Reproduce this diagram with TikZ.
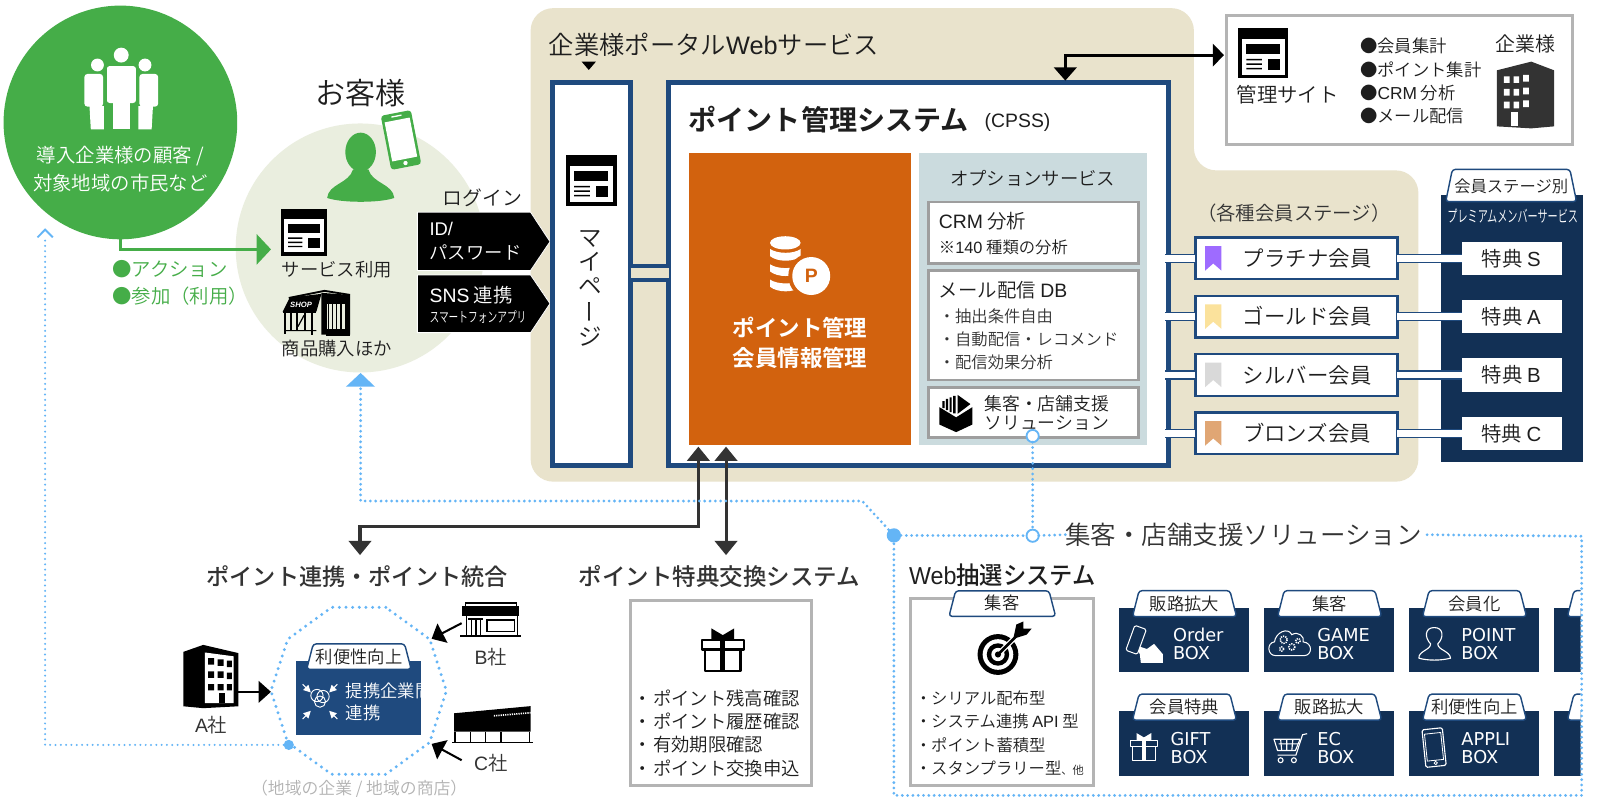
\documentclass[tikz,border=0pt]{standalone}
\usepackage{fontspec}
\usepackage{graphicx}
\setmainfont{Noto Sans CJK JP DemiLight}
\newfontfamily\medf{Noto Sans CJK JP Medium}
\newfontfamily\boldf{Noto Sans CJK JP Bold}
\newfontfamily\latinf{DejaVu Sans}
\newfontfamily\ltf{Liberation Sans}
\newcommand{\lat}[1]{{\ltf #1}}
\usetikzlibrary{arrows.meta,shapes.geometric,fit,calc}
\definecolor{grn}{HTML}{45AD48}
\definecolor{paleg}{HTML}{EAEEDF}
\definecolor{beige}{HTML}{E9E3CC}
\definecolor{bluel}{HTML}{1F4A7E}
\definecolor{navy}{HTML}{123055}
\definecolor{orng}{HTML}{D2620E}
\definecolor{optb}{HTML}{CBDBDE}
\definecolor{grayb}{HTML}{B4B4B4}
\definecolor{dotc}{HTML}{64B5F6}
\definecolor{ink}{HTML}{1E1E1E}
\definecolor{dk}{HTML}{333333}
\newcommand{\tx}[5][]{\node[inner sep=0pt,outer sep=0pt,text=ink,#1] (#2) at (#3) {\fontsize{#4}{#4}\selectfont\rule[-.12em]{0pt}{1em}#5};}
\newcommand{\bx}[4][]{\node[inner sep=0pt,outer sep=0pt,fit={(#3)(#4)},#1] (#2) {};}
\newcommand{\webic}[3]{\pgfmathsetmacro{\ux}{#3*0.01}
\begin{scope}[shift={(#1,#2)},x=\ux pt,y=-\ux pt]
\fill[black] (0,0) rectangle (100,100);
\fill[white] (7,22) rectangle (93,93);
\fill[black] (16,32) rectangle (84,51);
\fill[black] (16,61) rectangle (47,64) (16,70) rectangle (47,73) (16,79) rectangle (47,82);
\fill[black] (59,62) rectangle (84,83);
\end{scope}}
\newcommand{\tabshape}[5][]{\draw[tabst,#1] (#2,#5) -- (#2+6.5,#4) -- (#3-6.5,#4) -- (#3,#5) -- cycle;}
\newcommand{\giftic}[5]{\pgfmathsetmacro{\ux}{#3*0.01}
\begin{scope}[shift={(#1,#2)},x=\ux pt,y=-\ux pt,line width=#5pt]
\draw[#4,line join=round] (0,27) rectangle (100,50);
\draw[#4,line join=round] (8,50) rectangle (92,100);
\fill[#4] (23,0) -- (50,16) -- (77,0) -- (77,27) -- (23,27) -- cycle;
\fill[#4] (44,27) rectangle (56,100);
\end{scope}}
\tikzset{
 tabst/.style={fill=white,draw=bluel,line width=1.4pt,rounded corners=3pt},
 dotline/.style={draw=dotc,line width=3pt,line cap=round,dash pattern=on 0pt off 5.2pt},
 graybox/.style={draw=grayb,line width=3pt,fill=white},
 optbox/.style={draw=black!38,line width=2.5pt,fill=white},
 bluebox/.style={draw=bluel,line width=4.9pt,fill=white},
 membox/.style={draw=bluel,line width=2.2pt,fill=white},
 dblue/.style={draw=bluel,line width=1.5pt,double=white,double distance=6.5pt},
 darr/.style={draw=dk,line width=3pt,{Triangle[width=22pt,length=14pt]}-{Triangle[width=22pt,length=14pt]}},
 karr/.style={draw=black,line width=2pt,-{Triangle[width=21pt,length=12pt]}},
 cardbg/.style={fill=navy},
 wt/.style={text=white},
 cardtx/.style={text=white,anchor=west},
}
\newcommand{\card}[4]{% id x ytop title
\bx[cardbg]{card#1}{#2,#3}{#2+127.5,#3+63}
\tabshape{#2+13}{#2+115}{#3-17}{#3+8.5}
\tx{tab#1}{#2+64,#3-4}{17}{#4}
}
\begin{document}
\begin{tikzpicture}[x=1pt,y=-1pt]
\useasboundingbox (0,0) rectangle (1568,784);
\fill[white] (0,0) rectangle (1568,784);
% beige panel
\fill[beige,rounded corners=22pt] (520,8) -- (1170,8) -- (1170,167) -- (1390,167) -- (1390,472) -- (520,472) -- cycle;
% green circle
\node[circle,fill=grn,minimum size=229pt,inner sep=0pt,outer sep=0pt] (cust) at (118,120) {};
\begin{scope}[white]
\fill (118.8,54) circle (7.3);
\fill[rounded corners=3pt] (104.6,64.7) rectangle (133.3,101);
\fill (110.7,100) rectangle (127.6,126.8);
\fill (95.5,63.7) circle (6.3);
\fill (142.1,63.7) circle (6.3);
\fill[rounded corners=3pt] (82.7,72.5) -- (101,72.5) -- (101,104.5) -- (82.7,104.5) -- cycle;
\fill[rounded corners=3pt] (136.6,72.5) -- (155,72.5) -- (155,104.5) -- (136.6,104.5) -- cycle;
\fill (87.7,104) -- (102,104) -- (102,126.8) -- (89,126.8) -- cycle;
\fill (135.6,104) -- (149.9,104) -- (148.6,126.8) -- (135.6,126.8) -- cycle;
\end{scope}
\fill[grn] (102,64) rectangle (104.6,127);
\fill[grn] (133.3,64) rectangle (135.6,127);
\tx[wt]{c1}{118,152.6}{19}{導入企業様の顧客 /}
\tx[wt]{c2}{118,179}{19}{対象地域の市民など}
% pale circle
\node[circle,fill=paleg,minimum size=244pt,inner sep=0pt,outer sep=0pt] (pale) at (353,243) {};
\tx{okyaku}{353,91}{29.5}{お客様}
\fill[grn] (353.4,149) ellipse (15 and 19);
\fill[grn] (320.6,194) .. controls (322,180) and (342,180) .. (346,166) -- (361,166) .. controls (365,180) and (385,180) .. (386.4,194) .. controls (372,199) and (335,199) .. (320.6,194) -- cycle;
\begin{scope}[shift={(393,137.2)},rotate=11]
\fill[grn,rounded corners=3pt] (-15,-27) rectangle (15,27);
\fill[white] (-12.5,-20) rectangle (12.5,19);
\fill[white] (-5,-24.5) rectangle (5,-23.2);
\fill[white] (0,23) circle (2.1);
\end{scope}
% green arrow
\coordinate (ga) at (265.6,244.4);
\coordinate (gb) at (118,244.4);
\draw[grn,line width=3.5pt,-{Triangle[width=29pt,length=14pt]}] (cust.south) -- (gb) -- (ga);
\tx[anchor=west,text=grn]{act1}{110,264}{19}{●アクション}
\tx[anchor=west,text=grn]{act2}{110,290}{19}{●参加（利用）}
\webic{275}{205}{45.5}
\tx[anchor=west]{svc}{276,264}{18}{サービス利用}
\tx[anchor=west]{buy}{276,341.4}{18}{商品購入ほか}
% shop
\draw[black,line width=1.8pt] (283,292) -- (318,285) -- (343,289);
\fill[black] (277,305.5) -- (284,291.5) -- (315,288) -- (310,305.5) -- cycle;
\node[inner sep=0,text=white,font=\ltf\bfseries\itshape\fontsize{7.5}{8}\selectfont] (shoplbl) at (295,298.5) {SHOP};
\draw[black,line width=1.7pt] (277,305.5) -- (310,305.5) (279,306) -- (279,327) (285,306) -- (285,324) (291,306) -- (291,324) (299,306) -- (299,324) (306,306) -- (306,328);
\draw[black,line width=1.2pt] (292,320) -- (298,309) (279,324) -- (310,324);
\fill[black] (315,287) -- (343,289) -- (343,328) -- (315,328) -- cycle;
\fill[paleg] (320,298) rectangle (338,322);
\draw[black,line width=1.4pt] (322,298) -- (322,322) (326,298) -- (326,322) (330,298) -- (330,322) (334,298) -- (334,322);
\fill[black] (319,322) rectangle (343,329);
\tx{login}{473,194}{19.5}{ログイン}
\fill[black,draw=white,line width=.8pt] (409,208) -- (520,208) -- (539,236.8) -- (520,265) -- (409,265) -- cycle;
\fill[black,draw=white,line width=.8pt] (409,269.5) -- (520,269.5) -- (539,297.5) -- (520,326) -- (409,326) -- cycle;
\tx[wt,anchor=west]{id1}{421,224}{18}{\lat{ID/}}
\tx[wt,anchor=west]{id2}{421,247.5}{18}{パスワード}
\tx[wt,anchor=west]{sns1}{421,289}{19}{\lat{SNS} 連携}
\tx[wt,anchor=west]{sns2}{421,311}{14}{\scalebox{.68}[1]{スマートフォンアプリ}}
% portal
\tx[anchor=west]{portal}{538,44}{24.8}{企業様ポータル\lat{Web}サービス}
\fill[black] (570,60.4) -- (584,60.4) -- (577,68.6) -- cycle;
\bx[bluebox]{mypage}{541.5,81}{618,456.5}
\webic{554.7}{152}{49.5}
\tx{my1}{578,233}{23}{マ}
\tx{my2}{578,256.5}{23}{イ}
\tx{my3}{578,280}{23}{ペ}
\tx[rotate=90]{my4}{578,306}{23}{ー}
\tx{my5}{578,330}{23}{ジ}
% main box
\bx[bluebox]{main}{655.5,81}{1145,456.5}
\draw[draw=bluel,line width=4pt,double=beige,double distance=9.7pt] (mypage.east |- 0,267.5) -- (main.west |- 0,267.5);
\tx[anchor=west]{mtitle}{675,117}{27.5}{\boldf ポイント管理システム}
\tx[anchor=west]{cpss}{965,119}{19}{\lat{(CPSS)}}
\bx[fill=orng]{orange}{675,150}{892.8,436}
% coins
\begin{scope}[white]
\foreach \yy in {250,265,280} {
 \fill (754.6,\yy-6) .. controls (762,\yy-1) and (778,\yy-1) .. (784.7,\yy-6) -- (784.7,\yy+1) .. controls (778,\yy+7) and (762,\yy+7) .. (754.6,\yy+1) -- cycle;
}
\fill (769.6,238) ellipse (15 and 6.5);
\end{scope}
\fill[orng] (795,270.5) circle (22.5);
\fill[white] (795,270.5) circle (18.6);
\node[inner sep=0,text=orng,font=\ltf\bfseries\fontsize{19}{19}\selectfont] (pp) at (795,270.5) {P};
\tx[wt]{o1}{784,321.6}{22}{\boldf ポイント管理}
\tx[wt]{o2}{784,351}{22}{\boldf 会員情報管理}
\bx[fill=optb]{opts}{900.6,150}{1124,436}
\tx{o3}{1012,174.8}{18}{オプションサービス}
\bx[optbox]{crm}{910,198}{1115.5,258}
\tx[anchor=west]{crm1}{920.2,217}{19}{\lat{CRM} 分析}
\tx[anchor=west]{crm2}{920.2,242}{16}{※\lat{140} 種類の分析}
\bx[optbox]{mail}{910,265}{1115.5,372.5}
\tx[anchor=west]{ml0}{920.2,284}{19}{メール配信 \lat{DB}}
\tx[anchor=west,text=dk]{ml1}{920,309.8}{16}{\makebox[16pt][c]{・}抽出条件自由}
\tx[anchor=west,text=dk]{ml2}{920,332.3}{16}{\makebox[16pt][c]{・}自動配信・レコメンド}
\tx[anchor=west,text=dk]{ml3}{920,355}{16}{\makebox[16pt][c]{・}配信効果分析}
\bx[optbox]{sol}{910,379.5}{1115.5,428.5}
\fill[black] (920.5,399) -- (937,409) -- (953,399) -- (953,416) -- (937,423.5) -- (920.5,416) -- cycle;
\fill[black] (938.5,387) -- (951,396) -- (938.5,405.5) -- cycle;
\fill[black] (934,388) rectangle (936.5,405) (930.5,389.5) rectangle (932.7,404) (927,391) rectangle (929.2,402) (923.5,393) rectangle (925.7,400);
\tx[anchor=west]{s1}{964.6,396}{17.5}{集客・店舗支援}
\tx[anchor=west]{s2}{964.6,414}{17.5}{ソリューション}
% admin
\bx[graybox]{admin}{1201.5,15}{1541,141.5}
\webic{1213.6}{27.8}{49}
\tx[anchor=west]{adm}{1212,93}{20}{管理サイト}
\tx[anchor=west]{a1}{1333,45}{17}{●会員集計}
\tx[anchor=west]{a2}{1333,68.6}{17}{●ポイント集計}
\tx[anchor=west]{a3}{1333,91.5}{17}{●\lat{CRM} 分析}
\tx[anchor=west]{a4}{1333,114}{17}{●メール配信}
\tx{co}{1495,43.5}{19.5}{企業様}
\begin{scope}[shift={(1467,60.4)},x=.56pt,y=-.654pt]
\fill[dk] (0,13) -- (60,0) -- (100,13) -- (100,97) -- (60,100) -- (0,97) -- cycle;
\fill[white] (12,22) rectangle (22,32) (29,22) rectangle (39,32) (46,20) rectangle (56,30);
\fill[white] (12,41) rectangle (22,51) (29,41) rectangle (39,51) (46,39) rectangle (56,49);
\fill[white] (12,60) rectangle (22,70) (29,60) rectangle (39,70) (46,58) rectangle (56,68);
\fill[white] (24,75) rectangle (36,96);
\end{scope}
\coordinate (ta) at (1044,79);
\coordinate (tb) at (1044,54);
\draw[black,line width=3pt,shorten >=2pt,{Triangle[width=22pt,length=13pt]}-{Triangle[width=22pt,length=11pt]}] (ta) -- (tb) -- (admin.west |- tb);
\tx[text=dk]{stages}{1268,209}{19}{（各種会員ステージ）}
% premium panel
\bx[fill=navy]{prem}{1412,191}{1551,452.5}
\tabshape{1416.8}{1545}{166}{197.6}
\tx{premt}{1481,183}{16}{会員ステージ別}
\tx[wt]{premt2}{1482.5,212}{16}{\scalebox{.62}[1]{プレミアムメンバーサービス}}
\foreach \nm/\yy/\col/\lab/\tl in {pl/253.2/9E6BFF/プラチナ会員/S,go/310.3/FBE29C/ゴールド会員/A,si/367.4/D9D9D9/シルバー会員/B,br/424.7/E0A674/ブロンズ会員/C}{
 \bx[fill=white]{tk\nm}{1432.5,\yy-16.5}{1530.4,\yy+16.5}
 \bx[membox]{m\nm}{1171.5,\yy-20.5}{1369.5,\yy+20.5}
 \draw[dblue,shorten >=-3pt] (m\nm.west) -- (main.east |- m\nm.west);
 \draw[dblue] (m\nm.east) -- (tk\nm.west);
 \definecolor{bm}{HTML}{\col}
 \fill[bm] (1181,\yy-12) -- (1197,\yy-12) -- (1197,\yy+12) -- (1189,\yy+5) -- (1181,\yy+12) -- cycle;
 \tx{lab\nm}{1281,\yy}{21}{\lab}
 \tx{tt\nm}{1481,\yy}{20}{特典 \lat{\tl}}
}
% dark arrows
\coordinate (d1a) at (684.4,437.7);
\coordinate (d1b) at (684.4,516);
\coordinate (d1c) at (352.8,516);
\coordinate (d1d) at (352.8,544);
\draw[darr] (d1a) -- (d1b) -- (d1c) -- (d1d);
\coordinate (d2a) at (711.5,437.7);
\coordinate (d2b) at (711.5,544);
\draw[darr] (d2a) -- (d2b);
\tx[text=dk]{hd1}{350,565}{22.7}{\medf ポイント連携・ポイント統合}
\tx[text=dk]{hd2}{705,565}{23}{\medf ポイント特典交換システム}
% decagon
\bx[fill=bluel]{tie}{290,648}{413,720}
\tabshape{300.5}{403}{631}{656}
\tx{tiet}{352,644}{17}{利便性向上}
\begin{scope}
\clip (290,648) rectangle (413,720);
\tx[wt,anchor=west]{tie1}{339,677}{17}{提携企業間}
\tx[wt,anchor=west]{tie2}{339,699}{17}{連携}
\end{scope}
\draw[white,line width=.9pt] (313.6,687.6) ++(-3,-6) circle (6) ++(6,1) circle (6) ++(-3,5) circle (5.5);
\foreach \dx/\dy in {-1/-1,1/-1,-1/1,1/1}{
 \draw[white,line width=1pt,-{Triangle[width=7pt,length=7pt]}] (313.6+17*\dx,687.6+17*\dy) -- (313.6+9*\dx,687.6+9*\dy);
}
\node[regular polygon,regular polygon sides=10,minimum size=172pt,inner sep=0pt,outer sep=0pt,dotline,line width=3.2pt,dash pattern=on 0pt off 6.5pt] (oct) at (351.5,677) {};
% A sha
\begin{scope}[shift={(179.7,632)},x=.54pt,y=-.62pt]
\fill[black] (0,11) -- (36,0) -- (100,13) -- (100,97) -- (36,100) -- (0,97) -- cycle;
\fill[white] (39,12) -- (91,18) -- (91,92) -- (39,92) -- cycle;
\fill[black] (45,21) rectangle (56,31) (62,23) rectangle (73,33) (79,25) rectangle (88,35);
\fill[black] (45,42) rectangle (56,52) (62,42) rectangle (73,52) (79,44) rectangle (88,54);
\fill[black] (45,62) rectangle (56,72) (62,62) rectangle (73,72) (79,62) rectangle (88,72);
\fill[black] (64,76) rectangle (76,92);
\end{scope}
\tx[text=dk]{asha}{207,710.6}{19}{\lat{A}社}
\coordinate (aa) at (233.6,678);
\draw[karr] (aa) -- (oct.west |- aa);
% B sha
\draw[black,line width=1.4pt] (456,591) rectangle (506,595);
\fill[black] (453,594) rectangle (509,604);
\draw[black,line width=1.5pt] (457,604) -- (457,622) (507,604) -- (507,622) (462,606) -- (462,622) (466.5,606) -- (466.5,622) (471,606) -- (471,622) (459,606.5) -- (473,606.5);
\draw[black,line width=1.5pt] (477,607.5) rectangle (504,619);
\draw[black,line width=2pt] (451,623) -- (511,623);
\tx[text=dk]{bsha}{481,644}{19}{\lat{B}社}
\coordinate (ba) at (452.4,610.7);
\coordinate (bb) at (423,626);
\draw[karr] (ba) -- (bb);
% C sha
\fill[black] (445,699) -- (520,692) -- (520,717) -- (445,717) -- cycle;
\draw[white,line width=1.6pt,dash pattern=on 1.2pt off 1pt] (484,701.5) -- (520,698.5);
\draw[black,line width=1.5pt] (446,717) -- (446,727) (461,717) -- (461,727) (476,717) -- (476,727) (491,717) -- (491,727) (519,717) -- (519,727);
\draw[black,line width=1.4pt] (443,727.5) -- (522,727.5);
\tx[text=dk]{csha}{481,747.5}{19}{\lat{C}社}
\coordinate (ca) at (452.4,745);
\coordinate (cb) at (423,729);
\draw[karr] (ca) -- (cb);
\tx[text=black!30]{reg}{352,773}{16.5}{（地域の企業 / 地域の商店）}
% exchange
\bx[graybox]{ex}{618.3,588.5}{795.5,769.5}
\giftic{687.6}{615.8}{41.5}{black}{2.2}
\tx[anchor=west]{e1}{620,685}{18}{\makebox[20pt][c]{・}ポイント残高確認}
\tx[anchor=west]{e2}{620,707}{18}{\makebox[20pt][c]{・}ポイント履歴確認}
\tx[anchor=west]{e3}{620,730}{18}{\makebox[20pt][c]{・}有効期限確認}
\tx[anchor=west]{e4}{620,752.8}{18}{\makebox[20pt][c]{・}ポイント交換申込}
% web lottery
\tx[anchor=west]{wl}{891,563.5}{24}{\scalebox{.95}[1]{\medf \lat{Web}抽選システム}}
\bx[graybox]{lot}{892.5,586.5}{1072,769.5}
\tabshape{930}{1034.5}{579}{604}
\tx{lott}{982,591}{17}{集客}
\fill[black] (978,641.4) circle (20);
\fill[white] (978,641.4) circle (15);
\fill[black] (978,641.4) circle (11);
\fill[white] (978,641.4) circle (6.5);
\fill[black] (978,641.4) circle (3);
\draw[white,line width=5pt] (980,639.4) -- (998,621.4);
\draw[black,line width=2.6pt] (978,641.4) -- (998,621.4);
\fill[black] (993,626) -- (996,612) -- (1003,609) -- (1003,616) -- (1011,616) -- (1006,622) -- cycle;
\tx[anchor=west]{l1}{897.6,684}{16}{\makebox[15pt][c]{・}シリアル配布型}
\tx[anchor=west]{l2}{897.6,707}{16}{\makebox[15pt][c]{・}システム連携 \lat{API} 型}
\tx[anchor=west]{l3}{897.6,730}{16}{\makebox[15pt][c]{・}ポイント蓄積型}
\tx[anchor=west]{l4}{897.6,753}{16}{\makebox[15pt][c]{・}スタンプラリー型{\fontsize{11}{11}\selectfont、他}}
% cards
\card{a}{1096.8}{595.8}{販路拡大}
\card{b}{1239}{595.8}{集客}
\card{c}{1381}{595.8}{会員化}
\card{d}{1096.8}{697.2}{会員特典}
\card{e}{1239}{697.2}{販路拡大}
\card{f}{1381}{697.2}{利便性向上}
\begin{scope}
\clip (1500,570) rectangle (1549,770);
\bx[cardbg]{cardg}{1523.3,595.8}{1650,658.8}
\bx[cardbg]{cardh}{1523.3,697.2}{1650,760.2}
\draw[tabst] (1536,604.3) -- (1542.5,578.8) -- (1650,578.8) -- (1650,604.3) -- cycle;
\draw[tabst] (1536,705.7) -- (1542.5,680.2) -- (1650,680.2) -- (1650,705.7) -- cycle;
\end{scope}
\foreach \nn/\xx/\yy/\aa/\bb in {ca/1149.4/622.3/Order/BOX,cb/1290.8/622.3/GAME/BOX,cc/1432/622.3/POINT/BOX,cd/1147/724.7/GIFT/BOX,ce/1290.8/724.7/EC/BOX,cf/1432/724.7/APPLI/BOX}{
 \node[inner sep=0,cardtx,font=\latinf\fontsize{17.4}{17.4}\selectfont] (\nn1) at (\xx,\yy) {\aa};
 \node[inner sep=0,cardtx,font=\latinf\fontsize{17.4}{17.4}\selectfont] (\nn2) at (\xx,\yy+17.5) {\bb};
}
% card icons
\begin{scope}[white]
\fill (1118,649.5) -- (1117,641) -- (1112,632) -- (1124,636) -- (1131,631) -- (1139.5,641) -- (1139.5,649.5) -- cycle;
\begin{scope}[shift={(1113,628)},rotate=-20]
\draw[line width=1pt,fill=navy,rounded corners=1.5pt] (-6,-14) rectangle (6,12);
\end{scope}
\draw[line width=1pt] (1250,642.5) .. controls (1242,642.5) and (1241,630) .. (1249,629) .. controls (1250,620) and (1262,614) .. (1266,622) .. controls (1272,618) and (1279,624) .. (1277,629) .. controls (1287,630) and (1286,642.5) .. (1278,642.5) -- cycle;
\foreach \gx/\gy/\gr in {1258/627/3.5,1266/634/3,1272/628/2.2,1256/636/2}{
 \draw[line width=1.5pt,dash pattern=on 1.2pt off 1pt] (\gx,\gy) circle (\gr);
}
\draw[line width=1.1pt,line join=round] (1390.5,645) .. controls (1390,638) and (1402,637) .. (1402,631) .. controls (1396,625) and (1396,615) .. (1405.5,615) .. controls (1415,615) and (1415,625) .. (1409,631) .. controls (1409,637) and (1421,638) .. (1421.5,645) .. controls (1412,647.5) and (1399,647.5) .. (1390.5,645) -- cycle;
\draw[line width=1.1pt,line join=round] (1248.5,724.5) -- (1274,724.5) -- (1269.5,735.5) -- (1252,735.5) -- cycle;
\draw[line width=1.1pt] (1281,719) -- (1276.5,720) -- (1270,740) -- (1252,740) (1253,729) -- (1272,729) (1255,724.5) -- (1256,735) (1261,724.5) -- (1261,735) (1267,724.5) -- (1266,735);
\draw[line width=1.1pt] (1255,745) circle (2.4) (1268,745) circle (2.4);
\begin{scope}[shift={(1405.4,732.6)},rotate=6]
\draw[line width=1.1pt,rounded corners=1.5pt] (-10,-18.5) rectangle (10,18.5);
\draw[line width=.8pt] (-8,-14) rectangle (8,12.5) (0,15.2) circle (1.6);
\end{scope}
\end{scope}
\giftic{1107.7}{718.4}{26.7}{white}{1.3}
% blue dotted lines
\fill[dotc] (339,379) -- (353.4,365.5) -- (367.5,379) -- cycle;
\coordinate (dA) at (353.4,381);
\coordinate (dB) at (353.4,491);
\coordinate (dC) at (845,491);
\node[circle,fill=dotc,minimum size=14pt,inner sep=0pt,outer sep=0pt] (hub) at (876,524.7) {};
\node[circle,draw=dotc,fill=white,line width=1.8pt,minimum size=12pt,inner sep=0pt,outer sep=0pt] (cir1) at (1012,427.3) {};
\node[circle,draw=dotc,fill=white,line width=1.8pt,minimum size=12pt,inner sep=0pt,outer sep=0pt] (cir2) at (1012,525) {};
\tx[text=dk]{sol2}{1218.8,524}{25}{集客・店舗支援ソリューション}
\draw[dotline] (dA) -- (dB) -- (dC) -- (hub);
\draw[dotline] (hub) -- (cir2);
\draw[dotline] (cir1) -- (cir2);
\draw[dotline] (cir2) -- (sol2.west);
\coordinate (r1) at (1550,525.5);
\coordinate (r2) at (1550,779.5);
\coordinate (r3) at (876,779.5);
\draw[dotline] (sol2.east) ++(5,0) -- (r1) -- (r2) -- (r3) -- (hub);
% left dotted
\node[circle,fill=dotc,minimum size=10pt,inner sep=0pt,outer sep=0pt] (hub2) at (283,730) {};
\coordinate (lt) at (44.2,730);
\coordinate (lb) at (44.2,233);
\draw[dotline,line width=2.2pt] (hub2) -- (lt) -- (lb);
\draw[dotc,line width=1.8pt] (36.8,232.6) -- (44.2,225) -- (51.8,232.6);
\end{tikzpicture}
\end{document}
